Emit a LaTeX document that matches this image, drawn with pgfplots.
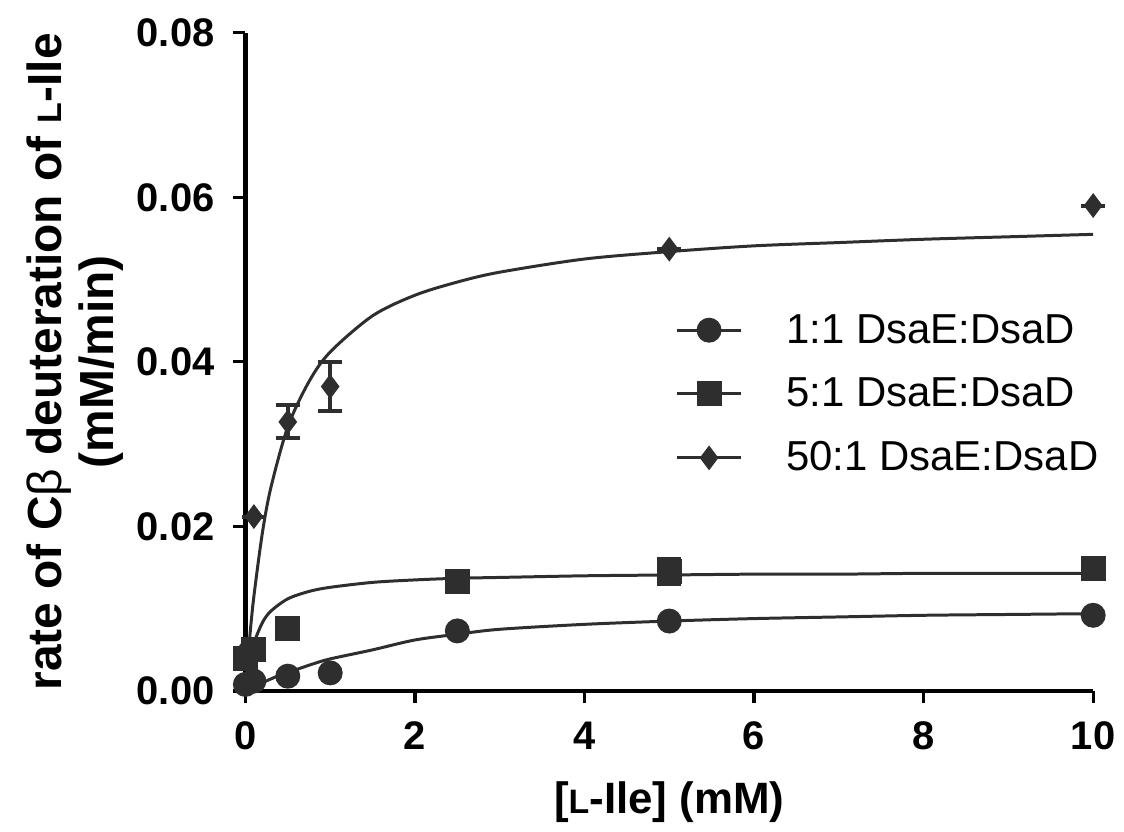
\documentclass[border=0pt]{standalone}
\usepackage{pgfplots}
\pgfplotsset{compat=1.18}
\usepackage{fontspec}
\setmainfont{Liberation Sans}

\definecolor{ink}{gray}{0.18}

\begin{document}
\begin{tikzpicture}
\begin{axis}[
  width=425pt, height=330pt, scale only axis,
  xmin=0, xmax=10, ymin=0, ymax=0.08,
  axis x line=bottom, axis y line=left,
  axis line style={line width=2.2pt, -},
  clip=false,
  xtick={0,2,...,10}, ytick={0,0.02,...,0.08},
  tick align=outside, major tick length=6pt,
  tick style={line width=1.6pt, black},
  scaled y ticks=false,
  /pgf/number format/assume math mode=true,
  yticklabel style={/pgf/number format/fixed, /pgf/number format/fixed zerofill,
    /pgf/number format/precision=2, xshift=-6pt},
  ticklabel style={font=\fontsize{20}{20}\selectfont\bfseries},
  xticklabel style={yshift=-6pt},
  xlabel={[{\fontsize{17}{17}\selectfont L}-Ile] (mM)},
  xlabel style={font=\fontsize{22}{22}\selectfont\bfseries, yshift=-9pt},
  ylabel={rate of C{\mdseries β} deuteration of {\fontsize{17}{17}\selectfont L}-Ile\\(mM/min)},
  ylabel style={font=\fontsize{24}{26}\selectfont\bfseries, align=center, yshift=0pt},
  legend style={draw=none, fill=none, at={(0.5,0.585)}, anchor=north west,
    font=\fontsize{21}{21}\selectfont, row sep=12pt,
    /tikz/every odd column/.append style={column sep=20pt}},
  legend cell align=left,
  legend image code/.code={
    \draw[ink, line width=1.5pt] (0pt,0pt) -- (32pt,0pt);
    \draw[#1] plot coordinates {(16pt,0pt)};},
]
% ---- fitted curves ----
\addplot[ink, line width=1.5pt, smooth, forget plot] coordinates {
  (0,0) (0.1,0.0005) (0.2,0.001) (0.4,0.0019) (0.6,0.0026) (0.8,0.0033)
  (1,0.0039) (1.5,0.0050) (2,0.0062) (2.5,0.0069) (3,0.0075) (4,0.0081)
  (5,0.0085) (6,0.0088) (7,0.009) (8,0.0092) (9,0.0093) (10,0.0094)};
\addplot[ink, line width=1.5pt, smooth, forget plot] coordinates {
  (0,0) (0.05,0.0036) (0.1,0.0058) (0.2,0.0083) (0.3,0.0097) (0.5,0.0112)
  (0.75,0.0121) (1,0.0126) (1.5,0.0132) (2,0.0135) (2.5,0.0137) (3,0.0138)
  (4,0.0140) (5,0.0141) (6,0.0142) (7,0.0142) (8,0.0143) (9,0.0143) (10,0.0143)};
\addplot[ink, line width=1.5pt, smooth, forget plot] coordinates {
  (0,0) (0.05,0.0064) (0.1,0.0115) (0.2,0.0192) (0.3,0.0247) (0.5,0.0321)
  (0.75,0.0376) (1,0.0412) (1.5,0.0456) (2,0.0481) (2.5,0.0497) (3,0.0509)
  (4,0.0525) (5,0.0534) (6,0.0541) (7,0.0545) (8,0.0549) (9,0.0552) (10,0.0555)};
% ---- data points ----
\addplot[ink, line width=1.5pt, only marks, mark=*, mark size=5.5pt,
  mark options={solid, fill=ink}] coordinates {
  (0,0.0008) (0.1,0.0012) (0.5,0.0018) (1,0.0022) (2.5,0.0073) (5,0.0085) (10,0.0092)};
\addlegendentry{1:1 DsaE:DsaD}
\addplot[ink, line width=1.5pt, only marks, mark=square*, mark size=5.5pt,
  mark options={solid, fill=ink},
  error bars/.cd, y dir=both, y explicit,
  error bar style={line width=2pt, ink},
  error mark options={rotate=90, mark size=6pt, line width=2pt}] coordinates {
  (0,0.004) +- (0,0) (0.1,0.005) +- (0,0) (0.5,0.0076) +- (0,0)
  (2.5,0.0133) +- (0,0) (5,0.0145) +- (0,0.0015) (10,0.0149) +- (0,0)};
\addlegendentry{5:1 DsaE:DsaD}
\addplot[ink, line width=1.5pt, only marks, mark=diamond*, mark size=5pt,
  mark options={solid, fill=ink},
  error bars/.cd, y dir=both, y explicit,
  error bar style={line width=2pt, ink},
  error mark options={rotate=90, mark size=6pt, line width=2pt}] coordinates {
  (0,0.005) +- (0,0) (0.1,0.0212) +- (0,0) (0.5,0.0327) +- (0,0.002)
  (1,0.037) +- (0,0.003) (5,0.0537) +- (0,0) (10,0.059) +- (0,0)};
\addlegendentry{50:1 DsaE:DsaD}
\end{axis}
% white margin round the picture, as in the reference
\path ([shift={(-10pt,-1pt)}]current bounding box.south west)
  rectangle ([shift={(1pt,6pt)}]current bounding box.north east);
\end{tikzpicture}
\end{document}
